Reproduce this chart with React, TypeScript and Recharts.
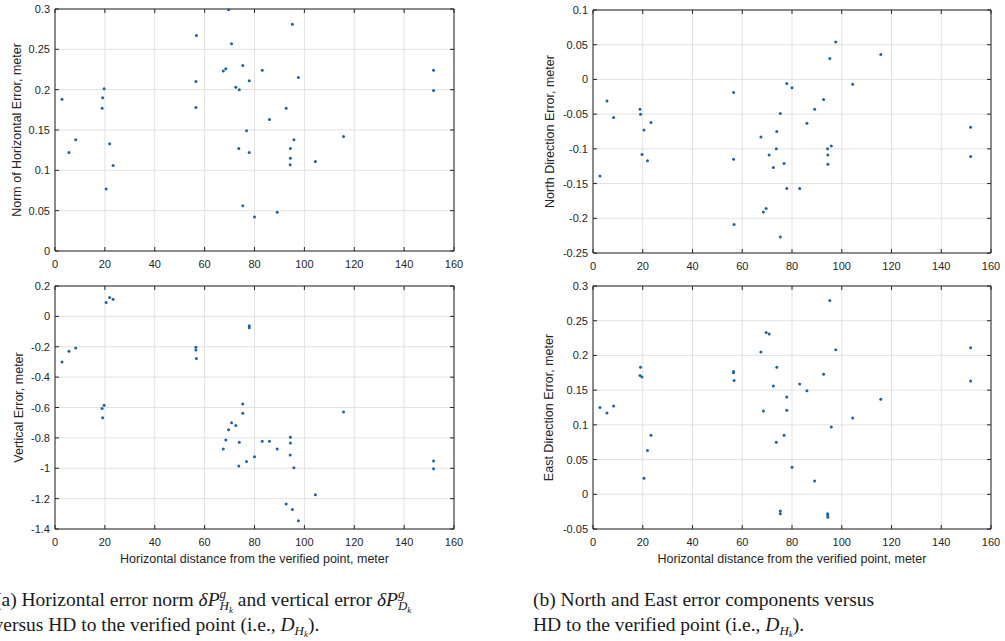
import React from "react";
import {
  ScatterChart,
  Scatter,
  XAxis,
  YAxis,
  CartesianGrid,
  ReferenceArea,
} from "recharts";

// Horizontal distance from the verified point (m)
const distance = [
  2.8, 5.6, 8.3, 18.9, 19.1, 19.7, 20.5, 21.9, 23.3, 56.5, 56.5, 56.7, 67.5,
  68.5, 69.6, 70.8, 72.5, 73.9, 73.7, 75.3, 75.3, 76.8, 77.9, 77.9, 80.0, 83.1,
  86.0, 89.1, 92.7, 94.4, 94.4, 94.3, 95.2, 95.8, 97.6, 104.4, 115.7, 151.8,
  151.8,
];
// Norm of horizontal error (m)
const horizontalNorm = [
  0.188, 0.122, 0.138, 0.177, 0.19, 0.201, 0.077, 0.133, 0.106, 0.178, 0.21,
  0.267, 0.223, 0.226, 0.299, 0.257, 0.203, 0.2, 0.127, 0.23, 0.056, 0.149,
  0.211, 0.122, 0.042, 0.224, 0.163, 0.048, 0.177, 0.127, 0.115, 0.107, 0.281,
  0.138, 0.215, 0.111, 0.142, 0.224, 0.199,
];
// Vertical error (m)
const verticalError = [
  -0.3, -0.23, -0.208, -0.607, -0.667, -0.585, 0.092, 0.125, 0.112, -0.204,
  -0.221, -0.278, -0.873, -0.814, -0.746, -0.7, -0.719, -0.829, -0.985, -0.577,
  -0.638, -0.956, -0.061, -0.075, -0.925, -0.822, -0.822, -0.873, -1.235,
  -0.796, -0.833, -0.912, -1.272, -0.996, -1.346, -1.175, -0.629, -0.952,
  -1.004,
];
// North direction error (m)
const northError = [
  -0.139, -0.031, -0.055, -0.043, -0.05, -0.108, -0.073, -0.117, -0.062,
  -0.019, -0.115, -0.209, -0.083, -0.191, -0.186, -0.109, -0.127, -0.075, -0.1,
  -0.227, -0.049, -0.121, -0.157, -0.006, -0.012, -0.157, -0.063, -0.043,
  -0.029, -0.122, -0.109, -0.1, 0.03, -0.096, 0.054, -0.007, 0.036, -0.069,
  -0.111,
];
// East direction error (m)
const eastError = [
  0.125, 0.117, 0.127, 0.171, 0.183, 0.169, 0.023, 0.063, 0.085, 0.177, 0.175,
  0.164, 0.205, 0.12, 0.233, 0.231, 0.156, 0.183, 0.075, -0.028, -0.024, 0.085,
  0.14, 0.121, 0.039, 0.159, 0.149, 0.019, 0.173, -0.033, -0.03, -0.028, 0.279,
  0.097, 0.208, 0.11, 0.137, 0.211, 0.163,
];

const xTicks = [0, 20, 40, 60, 80, 100, 120, 140, 160];
const horizTicks = [0, 0.05, 0.1, 0.15, 0.2, 0.25, 0.3];
const vertTicks = [-1.4, -1.2, -1, -0.8, -0.6, -0.4, -0.2, 0, 0.2];
const northTicks = [-0.25, -0.2, -0.15, -0.1, -0.05, 0, 0.05, 0.1];
const eastTicks = [-0.05, 0, 0.05, 0.1, 0.15, 0.2, 0.25, 0.3];

const points = distance.map((d, i) => ({
  d,
  h: horizontalNorm[i],
  v: verticalError[i],
  n: northError[i],
  e: eastError[i],
}));

const AX = "#262626";
const TICK_FONT = "'Liberation Sans', Arial, sans-serif";

type PanelCfg = {
  left: number;
  top: number;
  width: number;
  height: number;
  plotLeft: number;
  plotTop: number;
  plotW: number;
  plotH: number;
  yKey: string;
  yTicks: number[];
};

const fmt = (v: number) => String(Math.round(v * 1000) / 1000);

function Panel({ cfg }: { cfg: PanelCfg }) {
  const yAxisW = cfg.plotLeft - cfg.left;
  const mTop = cfg.plotTop - cfg.top;
  const mRight = cfg.left + cfg.width - (cfg.plotLeft + cfg.plotW);
  const xAxisH = cfg.top + cfg.height - (cfg.plotTop + cfg.plotH);
  const yMin = cfg.yTicks[0];
  const yMax = cfg.yTicks[cfg.yTicks.length - 1];

  const XTick = (p: any) => {
    const { x, y, payload } = p;
    return (
      <g>
        <line x1={x} x2={x} y1={y} y2={y - 4} stroke={AX} strokeWidth={1} />
        <line
          x1={x}
          x2={x}
          y1={y - cfg.plotH}
          y2={y - cfg.plotH + 4}
          stroke={AX}
          strokeWidth={1}
        />
        <text
          x={x}
          y={y + 17}
          textAnchor="middle"
          fontSize={11}
          fontFamily={TICK_FONT}
          fill={AX}
        >
          {fmt(payload.value)}
        </text>
      </g>
    );
  };

  const YTick = (p: any) => {
    const { x, y, payload } = p;
    return (
      <g>
        <line x1={x} x2={x + 4} y1={y} y2={y} stroke={AX} strokeWidth={1} />
        <line
          x1={x + cfg.plotW - 4}
          x2={x + cfg.plotW}
          y1={y}
          y2={y}
          stroke={AX}
          strokeWidth={1}
        />
        <text
          x={x - 5}
          y={y + 4}
          textAnchor="end"
          fontSize={11}
          fontFamily={TICK_FONT}
          fill={AX}
        >
          {fmt(payload.value)}
        </text>
      </g>
    );
  };

  return (
    <div
      style={{
        position: "absolute",
        left: cfg.left,
        top: cfg.top,
        width: cfg.width,
        height: cfg.height,
      }}
    >
      <ScatterChart
        width={cfg.width}
        height={cfg.height}
        margin={{ top: mTop, right: mRight, left: 0, bottom: 0 }}
        style={{ overflow: "visible" }}
      >
        <CartesianGrid stroke="#e2e2e2" strokeWidth={1} />
        <XAxis
          type="number"
          dataKey="d"
          domain={[0, 160]}
          ticks={xTicks}
          interval={0}
          height={xAxisH}
          axisLine={false}
          tickLine={false}
          tickSize={0}
          tickMargin={0}
          tick={XTick}
        />
        <YAxis
          type="number"
          dataKey={cfg.yKey}
          domain={[yMin, yMax]}
          ticks={cfg.yTicks}
          interval={0}
          width={yAxisW}
          axisLine={false}
          tickLine={false}
          tickSize={0}
          tickMargin={0}
          tick={YTick}
        />
        <ReferenceArea
          x1={0}
          x2={160}
          y1={yMin}
          y2={yMax}
          fill="none"
          fillOpacity={0}
          stroke={AX}
          strokeWidth={1}
        />
        <Scatter
          data={points}
          isAnimationActive={false}
          shape={(s: any) => (
            <circle cx={s.cx} cy={s.cy} r={1.5} fill="#1c63a6" />
          )}
        />
      </ScatterChart>
    </div>
  );
}

const panels: PanelCfg[] = [
  {
    left: 0, top: 0, width: 480, height: 275,
    plotLeft: 55, plotTop: 9, plotW: 399, plotH: 242,
    yKey: "h", yTicks: horizTicks,
  },
  {
    left: 0, top: 275, width: 480, height: 300,
    plotLeft: 55, plotTop: 286, plotW: 399, plotH: 243,
    yKey: "v", yTicks: vertTicks,
  },
  {
    left: 520, top: 0, width: 485, height: 275,
    plotLeft: 593, plotTop: 10, plotW: 398, plotH: 243,
    yKey: "n", yTicks: northTicks,
  },
  {
    left: 520, top: 275, width: 485, height: 300,
    plotLeft: 593, plotTop: 286, plotW: 398, plotH: 243,
    yKey: "e", yTicks: eastTicks,
  },
];

const LABEL_FONT = "'Liberation Sans', Arial, sans-serif";
const SERIF = "'Liberation Serif', 'Times New Roman', serif";

function YLabel({ x, y, text }: { x: number; y: number; text: string }) {
  return (
    <g transform={`translate(${x},${y}) rotate(-90)`}>
      <text
        x={0}
        y={4.5}
        textAnchor="middle"
        fontSize={12.5}
        fontFamily={LABEL_FONT}
        fill={AX}
      >
        {text}
      </text>
    </g>
  );
}

export default function App() {
  const capFs = 19.5;
  return (
    <div
      style={{
        position: "absolute",
        left: 0,
        top: 0,
        width: 1005,
        height: 641,
        background: "#ffffff",
        overflow: "hidden",
      }}
    >
      {panels.map((p, i) => (
        <Panel key={i} cfg={p} />
      ))}
      <svg
        width={1005}
        height={641}
        style={{ position: "absolute", left: 0, top: 0, pointerEvents: "none" }}
      >
        <YLabel x={16.5} y={130} text="Norm of Horizontal Error, meter" />
        <YLabel x={18} y={407.5} text="Vertical Error, meter" />
        <YLabel x={549} y={131.5} text="North Direction Error, meter" />
        <YLabel x={548} y={407.5} text="East Direction Error, meter" />
        <text
          x={254.5}
          y={563}
          textAnchor="middle"
          fontSize={12.5}
          fontFamily={LABEL_FONT}
          fill={AX}
        >
          Horizontal distance from the verified point, meter
        </text>
        <text
          x={792}
          y={563}
          textAnchor="middle"
          fontSize={12.5}
          fontFamily={LABEL_FONT}
          fill={AX}
        >
          Horizontal distance from the verified point, meter
        </text>

        {/* Caption (a) */}
        <text x={-5} y={606} fontSize={capFs} fontFamily={SERIF} fill="#1a1a1a">
          <tspan>(a) Horizontal error norm </tspan>
          <tspan fontStyle="italic">δP</tspan>
          <tspan fontSize={13} dy={-8} fontStyle="italic">g</tspan>
          <tspan fontSize={13} dx={-6.5} dy={12} fontStyle="italic">H</tspan>
          <tspan fontSize={9} dy={3} fontStyle="italic">k</tspan>
          <tspan dy={-7}> and vertical error </tspan>
          <tspan fontStyle="italic">δP</tspan>
          <tspan fontSize={13} dy={-8} fontStyle="italic">g</tspan>
          <tspan fontSize={13} dx={-6.5} dy={12} fontStyle="italic">D</tspan>
          <tspan fontSize={9} dy={3} fontStyle="italic">k</tspan>
        </text>
        <text x={-6.5} y={631} fontSize={capFs} fontFamily={SERIF} fill="#1a1a1a">
          <tspan>versus HD to the verified point (i.e., </tspan>
          <tspan fontStyle="italic">D</tspan>
          <tspan fontSize={13} dy={4} fontStyle="italic">H</tspan>
          <tspan fontSize={9} dy={2} fontStyle="italic">k</tspan>
          <tspan dy={-6}>).</tspan>
        </text>

        {/* Caption (b) */}
        <text x={533} y={606} fontSize={capFs} fontFamily={SERIF} fill="#1a1a1a">
          (b) North and East error components versus
        </text>
        <text x={533} y={631} fontSize={capFs} fontFamily={SERIF} fill="#1a1a1a">
          <tspan>HD to the verified point (i.e., </tspan>
          <tspan fontStyle="italic">D</tspan>
          <tspan fontSize={13} dy={4} fontStyle="italic">H</tspan>
          <tspan fontSize={9} dy={2} fontStyle="italic">k</tspan>
          <tspan dy={-6}>).</tspan>
        </text>
      </svg>
    </div>
  );
}
